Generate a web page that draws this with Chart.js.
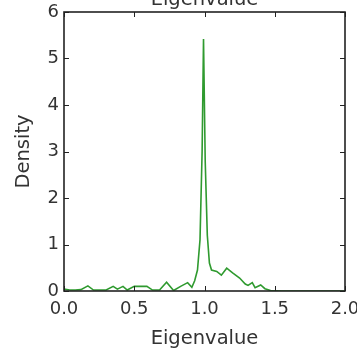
<!DOCTYPE html>
<html>
<head>
<meta charset="utf-8">
<script src="https://cdn.jsdelivr.net/npm/chart.js@4"></script>
<style>
html,body{margin:0;padding:0;background:#fff;}
#wrap{width:357px;height:351px;}
</style>
</head>
<body>
<div id="wrap"><canvas id="c" width="357" height="351"></canvas></div>
<script>
const chartTitle = "Eigenvalue";
const xAxisLabel = "Eigenvalue";
const yAxisLabel = "Density";
const xTicks = [0.0, 0.5, 1.0, 1.5, 2.0];
const yTicks = [0, 1, 2, 3, 4, 5, 6];
const eigenvalues = [0.00, 0.04, 0.08, 0.12, 0.17, 0.21, 0.25, 0.30, 0.35, 0.38, 0.42, 0.45, 0.50, 0.55, 0.59, 0.63, 0.68, 0.73, 0.78, 0.83, 0.88, 0.91, 0.93, 0.95, 0.968, 0.983, 0.993, 1.005, 1.02, 1.035, 1.05, 1.087, 1.12, 1.158, 1.20, 1.25, 1.29, 1.31, 1.34, 1.36, 1.40, 1.43, 1.47, 1.55, 1.70, 1.85, 2.00];
const density =     [0.04, 0.02, 0.02, 0.03, 0.11, 0.02, 0.02, 0.02, 0.10, 0.04, 0.10, 0.02, 0.10, 0.10, 0.10, 0.02, 0.02, 0.19, 0.01, 0.10, 0.18, 0.08, 0.22, 0.45, 1.10, 3.00, 5.42, 2.80, 1.20, 0.60, 0.45, 0.42, 0.34, 0.49, 0.39, 0.28, 0.15, 0.12, 0.18, 0.07, 0.13, 0.05, 0.01, 0.00, 0.00, 0.00, 0.00];

const points = eigenvalues.map((x, i) => ({x: x, y: density[i]}));
const FONT = "'DejaVu Sans', sans-serif";

const framePlugin = {
  id: 'frame',
  afterDraw(chart) {
    const ctx = chart.ctx;
    const a = chart.chartArea;
    const xs = chart.scales.x, ys = chart.scales.y;
    ctx.save();
    ctx.strokeStyle = '#222';
    ctx.lineWidth = 1;
    ctx.beginPath();
    xTicks.forEach(v => {
      const px = Math.round(xs.getPixelForValue(v)) + 0.5;
      ctx.moveTo(px, a.bottom); ctx.lineTo(px, a.bottom - 5);
      ctx.moveTo(px, a.top); ctx.lineTo(px, a.top + 5);
    });
    yTicks.forEach(v => {
      const py = Math.round(ys.getPixelForValue(v)) + 0.5;
      ctx.moveTo(a.left, py); ctx.lineTo(a.left + 5, py);
      ctx.moveTo(a.right, py); ctx.lineTo(a.right - 5, py);
    });
    ctx.stroke();
    ctx.lineWidth = 1.6;
    ctx.strokeRect(a.left, a.top, a.right - a.left, a.bottom - a.top);
    ctx.fillStyle = '#333';
    ctx.font = "19.5px " + FONT;
    ctx.textAlign = 'center';
    ctx.textBaseline = 'alphabetic';
    ctx.fillText(chartTitle, (a.left + a.right) / 2, 5);
    ctx.restore();
  }
};

new Chart(document.getElementById('c'), {
  type: 'line',
  data: {
    datasets: [{
      data: points,
      borderColor: '#2f9a2f',
      borderWidth: 1.6,
      pointRadius: 0,
      tension: 0,
      fill: false
    }]
  },
  options: {
    responsive: false,
    animation: false,
    layout: {padding: {top: 12, right: 12, left: 0, bottom: 0}},
    plugins: {legend: {display: false}, tooltip: {enabled: false}},
    scales: {
      x: {
        type: 'linear', min: 0, max: 2,
        afterBuildTicks: s => { s.ticks = xTicks.map(v => ({value: v})); },
        afterFit: s => { s.height = 60; s.paddingLeft = 0; s.paddingRight = 0; },
        grid: {display: false, drawTicks: false},
        border: {display: false},
        ticks: {padding: 8, color: '#333', font: {family: FONT, size: 18}, callback: v => v.toFixed(1), maxRotation: 0},
        title: {display: true, text: xAxisLabel, color: '#333', font: {family: FONT, size: 19.5}, padding: {top: 0, bottom: 0}}
      },
      y: {
        type: 'linear', min: 0, max: 6,
        afterBuildTicks: s => { s.ticks = yTicks.map(v => ({value: v})); },
        afterFit: s => { s.width = 64; s.paddingTop = 0; s.paddingBottom = 0; },
        grid: {display: false, drawTicks: false},
        border: {display: false},
        ticks: {padding: 5, color: '#333', font: {family: FONT, size: 18}, callback: v => String(v)},
        title: {display: true, text: yAxisLabel, color: '#333', font: {family: FONT, size: 19.5}, padding: {top: 12, bottom: 0}}
      }
    }
  },
  plugins: [framePlugin]
});
</script>
</body>
</html>
